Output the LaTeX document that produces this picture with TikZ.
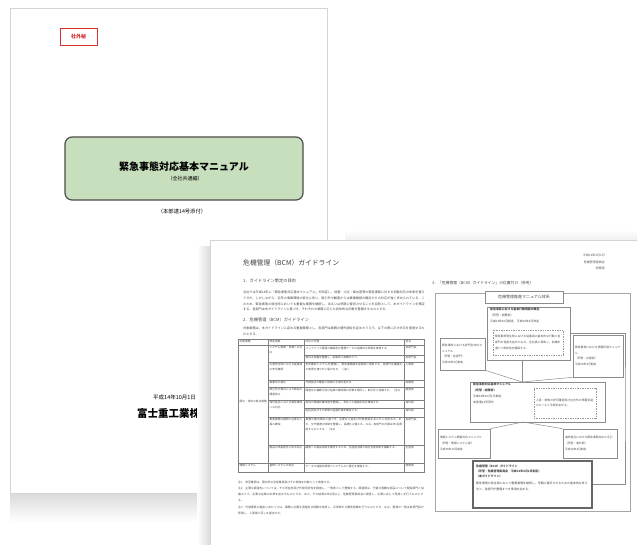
\documentclass[tikz,border=0pt]{standalone}
\usepackage{fontspec}
\newfontfamily\jp{Noto Sans CJK JP}
\XeTeXlinebreaklocale "ja"
\XeTeXlinebreakskip=0pt plus 0.5pt
\definecolor{covergreen}{RGB}{200,223,190}
\definecolor{stampred}{RGB}{214,48,48}
\begin{document}
\begin{tikzpicture}[x=1pt,y=-1pt,
  page/.style={draw=black!17, line width=0.9pt, fill=white},
  body/.style={font=\jp\fontsize{3.1}{5.6}\selectfont, text=black!72, inner sep=0pt, align=left, anchor=north west},
  cell/.style={font=\jp\fontsize{2.7}{4.6}\selectfont, text=black!70, inner sep=0pt, align=left, anchor=north west},
  head/.style={font=\jp\fontsize{4.2}{5}\selectfont, text=black!72, inner sep=0pt, anchor=west},
  fbox/.style={draw=black!45, line width=0.6pt, fill=white, inner sep=2pt, align=left, font=\jp\fontsize{2.8}{5.6}\selectfont, text=black!70},
  dbox/.style={fbox, draw=black!40, dash pattern=on 1pt off 0.7pt},
  flow/.style={draw=black!45, line width=0.5pt},
  rule/.style={draw=black!50, line width=0.4pt}
]
\useasboundingbox (0,0) rectangle (637,544);
\fill[white] (0,0) rectangle (637,544);

% cover page
\draw[page] (10,8) rectangle (327,493);
\node[draw=stampred, line width=0.5pt, inner sep=0pt, minimum width=37, minimum height=17, text=stampred, font=\jp\bfseries\fontsize{5}{5}\selectfont](secret) at (78.5,36.5) {社外秘};
\node[draw=black!70, line width=1.2pt, fill=covergreen, rounded corners=7pt, minimum width=238, minimum height=63](cover) at (184,168.5) {};
\node[font=\jp\bfseries\fontsize{10}{10}\selectfont, inner sep=0pt](title) at (184,167) {緊急事態対応基本マニュアル};
\node[font=\jp\fontsize{5}{5}\selectfont, inner sep=0pt](subtitle) at (185,179) {（全社共通編）};
\node[font=\jp\fontsize{5.3}{5}\selectfont, inner sep=0pt](attach) at (182,211) {（本部達14号添付）};
\node[font=\jp\fontsize{5.5}{5}\selectfont, inner sep=0pt, anchor=west](date) at (153,397) {平成14年10月1日};
\node[font=\jp\bfseries\fontsize{10.5}{10}\selectfont, inner sep=0pt, anchor=west](company) at (137,413) {富士重工業株式会社};

% shadows
\shade[top color=black!14, bottom color=white] (10,494) rectangle (210,522);
\shade[left color=white, right color=black!14] (197,246) rectangle (210,544);
\shade[top color=white, bottom color=black!6] (345,230) rectangle (637,240);

% guideline page
\draw[page] (210,240) rectangle (645,560);
\node[font=\jp\fontsize{6.8}{7}\selectfont, text=black!75, inner sep=0pt, anchor=west](gtitle) at (243,263) {危機管理（BCM）ガイドライン};
\node[head](sec1) at (243,281) {1．ガイドライン策定の目的};
\node[body, text width=182](para1) at (243,291) {当社では平成14年に「緊急事態対応基本マニュアル」を制定し、地震・火災・風水害等の緊急事態に対する初動対応の体制を整えてきた。しかしながら、近年の事業環境の変化に伴い、取引先や顧客からは事業継続の観点からの対応が強く求められている。このため、緊急事態の発生時においても重要な業務を継続し、あるいは早期に復旧させることを目的として、本ガイドラインを策定する。各部門は本ガイドラインに基づき、それぞれの業務に応じた具体的な計画を整備するものとする。};
\node[head](sec2) at (243,320) {2．危機管理（BCM）ガイドライン};
\node[body, text width=182](para2) at (243,327) {対象業務は、本ガイドラインに定める重要業務とし、各部門は業務の優先順位を定めたうえで、以下の表に示す対応を実施するものとする。};

% table
\draw[rule] (238,339) rectangle (424,472);
\draw[rule] (268,339)--(268,472) (304,339)--(304,472) (404,339)--(404,472);
\draw[rule] (238,345)--(424,345) (238,463)--(424,463);
\draw[rule] (268,362)--(424,362) (268,380)--(424,380) (268,387)--(424,387) (268,400)--(424,400) (268,417)--(424,417) (268,445)--(424,445);
\draw[rule] (304,355)--(424,355) (304,408)--(424,408);
\node[cell](h1) at (239.5,340) {対象業務};
\node[cell](h2) at (269.5,340) {想定事象};
\node[cell](h3) at (305.5,340) {対応の内容};
\node[cell](h4) at (405.5,340) {担当};
\node[cell, text width=27](c1) at (239.5,400) {国内・海外の拠点業務};
\node[cell](c1b) at (239.5,464.5) {情報システム};
\node[cell, text width=33](r1) at (269.5,346.5) {システム障害・停電への対応};
\node[cell, text width=33](r2) at (269.5,363.5) {災害発生時における従業員の安否確認};
\node[cell, text width=33](r3) at (269.5,381.5) {事業所の被災};
\node[cell, text width=33](r4) at (269.5,388.5) {取引先の被災による部品の調達停止};
\node[cell, text width=33](r5) at (269.5,401.5) {海外拠点における緊急事態への対応};
\node[cell, text width=33](r6) at (269.5,418.5) {重要業務の継続に必要な人員の確保};
\node[cell, text width=33](r7) at (269.5,446.5) {製品の供給責任に係る対応};
\node[cell, text width=33](r8) at (269.5,464.5) {基幹システムの保全};
\node[cell, text width=97](t1) at (305.5,346.5) {バックアップ電源の確保及び重要データの定期的な保管を実施する。};
\node[cell, text width=97](t1b) at (305.5,356.5) {復旧手順書を整備し、定期的に訓練を行う。};
\node[cell, text width=97](t2) at (305.5,363.5) {安否確認システムを整備し、緊急連絡網を定期的に更新する。各部門は連絡先の変更を速やかに届け出る。（注1）};
\node[cell, text width=97](t3) at (305.5,381.5) {代替拠点の確保と移転の手順を定める。};
\node[cell, text width=97](t4) at (305.5,388.5) {調達先の複数化及び在庫の確保等の対策を検討し、取引先と協議する。（注2）};
\node[cell, text width=97](t5) at (305.5,401.5) {現地の情報収集体制を整備し、本社との連絡手段を確保する。};
\node[cell, text width=97](t5b) at (305.5,409.5) {駐在員及びその家族の退避計画を策定する。};
\node[cell, text width=97](t6) at (305.5,418.5) {業務の優先順位に基づき、必要な人員及び代替要員をあらかじめ定める。また、交代勤務の体制を整備し、長期化に備える。なお、各部門の計画は年1回見直すものとする。（注3）};
\node[cell, text width=97](t7) at (305.5,446.5) {顧客への製品供給を維持するため、生産拠点間の相互支援体制を構築する。};
\node[cell, text width=97](t8) at (305.5,464.5) {データの遠隔地保管とシステムの二重化を推進する。};
\node[cell](p1) at (405.5,346.5) {各部門長};
\node[cell](p1b) at (405.5,356.5) {各部門長};
\node[cell](p2) at (405.5,363.5) {人事部};
\node[cell](p3) at (405.5,381.5) {総務部};
\node[cell](p4) at (405.5,388.5) {調達部};
\node[cell](p5) at (405.5,401.5) {海外部};
\node[cell](p5b) at (405.5,409.5) {海外部};
\node[cell](p6) at (405.5,418.5) {各部門長};
\node[cell](p7) at (405.5,446.5) {生産部};
\node[cell](p8) at (405.5,464.5) {情報部};
\node[cell, font=\jp\fontsize{2.8}{6}\selectfont, text width=186](note1) at (238,481) {注1　安否確認は、国内外の全従業員及びその家族を対象として実施する。};
\node[cell, font=\jp\fontsize{2.8}{6}\selectfont, text width=186](note2) at (238,487) {注2　主要な調達先については、その所在地及び代替可能性を調査し、一覧表として整備する。調達部は、代替の困難な部品について関係部門と協議のうえ、必要な在庫の水準を定めるものとする。また、その結果は年1回以上、危機管理委員会に報告し、必要に応じて見直しを行うものとする。};
\node[cell, font=\jp\fontsize{2.8}{6}\selectfont, text width=186](note3) at (238,506) {注3　代替要員の選定にあたっては、業務に必要な資格及び経験を考慮し、平常時から教育訓練を行うものとする。なお、要員の一覧は各部門長が管理し、人事部に写しを提出する。};

% position chart
\node[font=\jp\fontsize{3}{3}\selectfont, text=black!65, inner sep=0pt, anchor=east](gdate) at (605,255) {平成16年4月1日};
\node[font=\jp\fontsize{3}{3}\selectfont, text=black!65, inner sep=0pt, anchor=east](gorg) at (605,262) {危機管理委員会};
\node[font=\jp\fontsize{3}{3}\selectfont, text=black!65, inner sep=0pt, anchor=east](gdept) at (605,268) {総務部};
\node[head, font=\jp\fontsize{3.8}{4}\selectfont](sec3) at (432,283) {3．「危機管理（BCM）ガイドライン」の位置付け（参考）};
\node[draw=black!35, line width=0.7pt, minimum width=195, minimum height=218](frame) at (532.5,402) {};
\node[fbox, minimum width=78, minimum height=12, font=\jp\fontsize{4}{4}\selectfont](system) at (524,297) {危機管理推進マニュアル体系};
\node[fbox, minimum width=83, minimum height=53](boxA) at (528.5,333.5) {};
\node[body, font=\jp\fontsize{2.9}{6}\selectfont](textA) at (490,308) {\textbf{緊急事態における基本行動規範の策定}\\（所管：総務部）\\平成14年10月制定　平成16年4月改定};
\node[dbox, text width=66, minimum height=25](noteA) at (528,342.5) {緊急事態発生時における従業員の基本的な行動と各部門の役割を定めたもの。全社員に周知し、訓練を通じて実効性を確保する。};
\node[fbox, text width=41, minimum height=32](boxL) at (462.5,354) {緊急事態における部門別対応マニュアル\\（所管：各部門）\\平成15年4月制定};
\node[fbox, text width=46, minimum height=42](boxR) at (598,356) {緊急事態における情報伝達マニュアル\\（所管：広報部）\\平成15年4月制定};
\node[fbox, minimum width=135, minimum height=40](boxM) at (537.5,402) {};
\node[body, font=\jp\fontsize{2.9}{6}\selectfont](textM) at (473,382.5) {\textbf{緊急事態対応基本マニュアル}\\\textbf{（所管：総務部）}\\平成14年10月1日制定\\本部達14号添付};
\node[dbox, text width=58, minimum height=30](noteM) at (565,403) {人員・家族の安否確認及び社内外の情報伝達のルールと手順を定める。};
\node[fbox, text width=48, minimum height=29](boxLL) at (464,443.5) {情報システム障害対応マニュアル\\（所管：情報システム部）\\平成15年10月制定};
\node[fbox, text width=50, minimum height=29](boxRR) at (590,443.5) {海外拠点における緊急事態対応の手引\\（所管：海外部）\\平成16年4月制定};
\node[fbox, draw=black!60, line width=1.3pt, minimum width=119, minimum height=47](boxB) at (532.5,484.5) {};
\node[body, font=\jp\fontsize{2.9}{5.2}\selectfont, text width=112](textB) at (476,464.5) {\textbf{危機管理（BCM）ガイドライン}\\\textbf{（所管：危機管理委員会　平成16年4月1日制定）}\\\textbf{（本ガイドライン）}\\[2pt]緊急事態の発生時において重要業務を継続し、早期に復旧させるための基本的な考え方と、各部門が整備すべき事項を定める。};
\coordinate (top) at (522,382);
\coordinate (bot) at (523,422);
\coordinate (innerR) at (625,400);
\draw[flow] (boxA.south -| top)--(top);
\draw[flow] (boxL.south east)--(top);
\draw[flow] (boxR.south west)--(top);
\draw[flow] (bot)--(boxLL.north east);
\draw[flow] (bot)--(boxRR.north west);
\draw[flow] (boxA.east)-|(innerR)|-(boxB.east);
\end{tikzpicture}
\end{document}
